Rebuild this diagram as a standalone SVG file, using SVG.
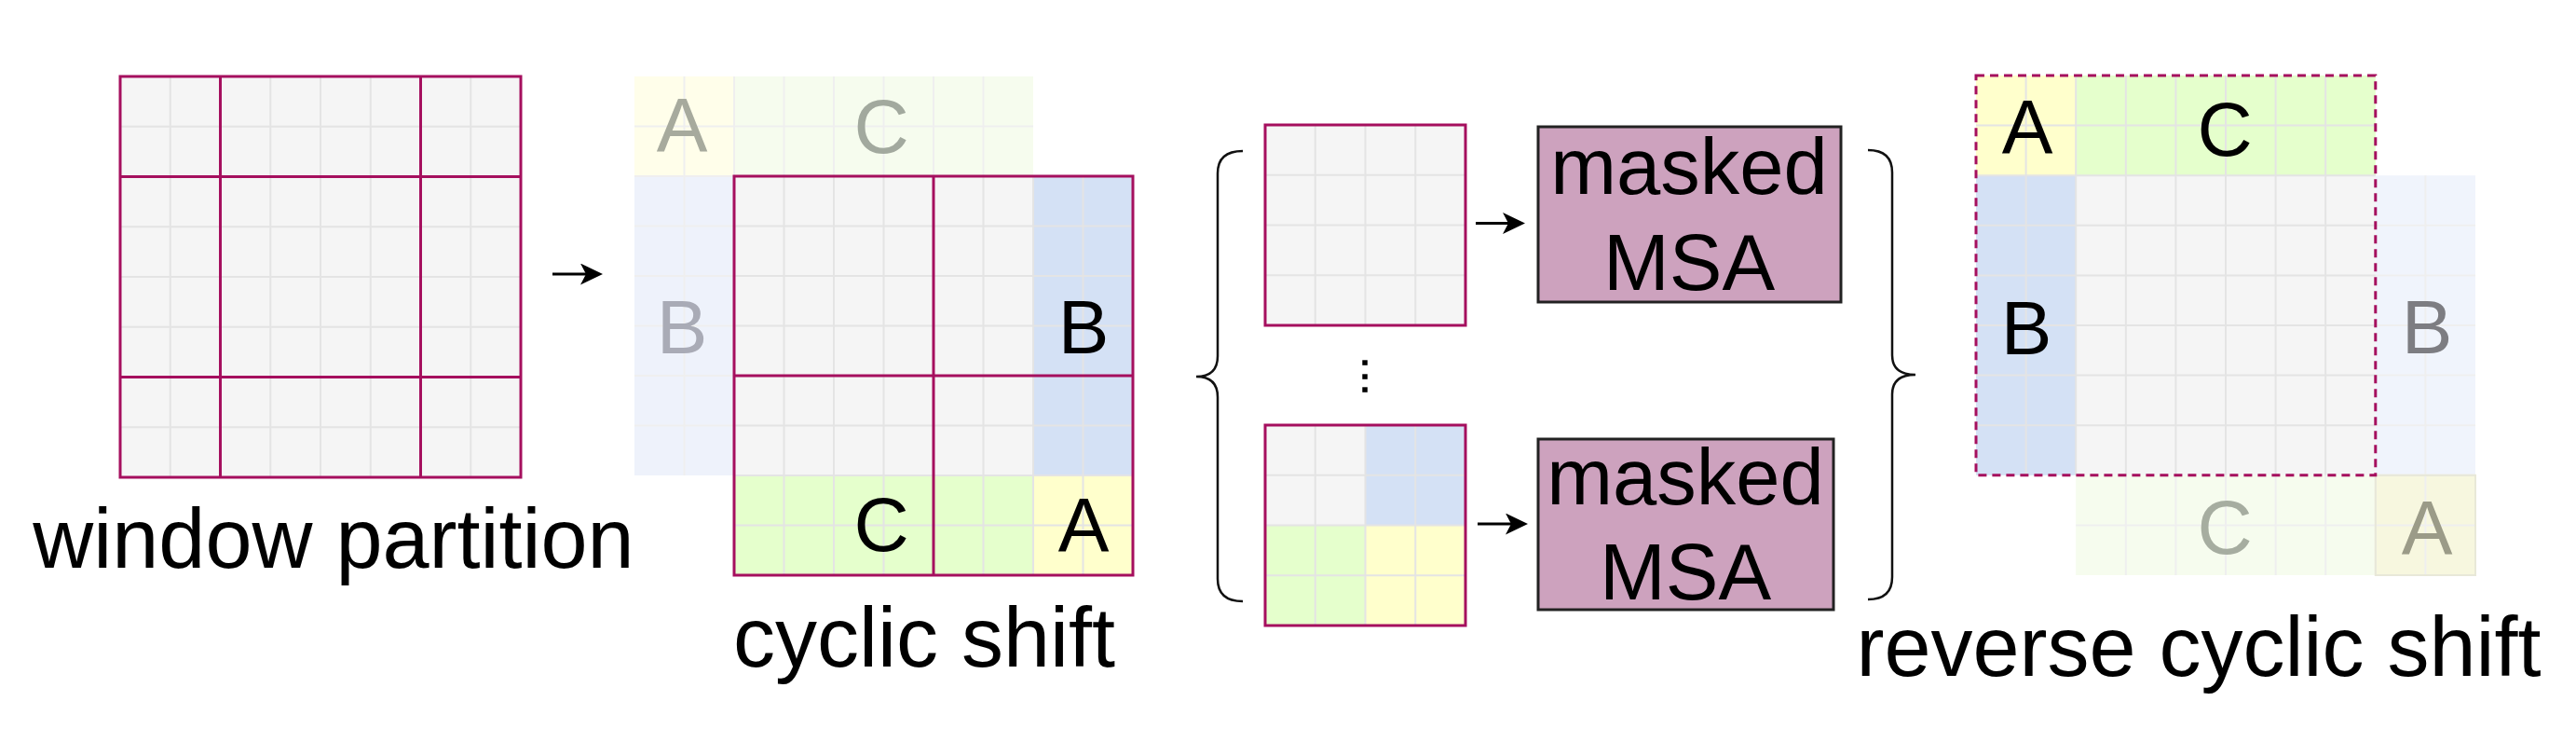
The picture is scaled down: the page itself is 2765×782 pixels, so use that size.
<svg xmlns="http://www.w3.org/2000/svg" width="2765" height="782" viewBox="0 0 2765 782">
<defs>
<style>
.gl{fill:none;stroke:#e4e4e4;stroke-width:2}
.glf{fill:none;stroke:#efefef;stroke-width:2}
.mg{fill:none;stroke:#a50f5e;stroke-width:3}
.mgd{fill:none;stroke:#a50f5e;stroke-width:3;stroke-dasharray:9 6}
.gray{fill:#f5f5f5}
.blue{fill:#d4e1f5}
.green{fill:#e5ffcc}
.yellow{fill:#ffffcc}
.fblue{fill:#eef2fb}
.fgreen{fill:#f6fcee}
.fyellow{fill:#fffeea}
.lbl{font-family:"Liberation Sans",Arial,sans-serif;font-size:82px;text-anchor:middle;fill:#000}
.cap{font-family:"Liberation Sans",Arial,sans-serif;font-size:90px;text-anchor:middle;fill:#000}
.msa{font-family:"Liberation Sans",Arial,sans-serif;font-size:85px;text-anchor:middle;fill:#000}
.box{fill:#cda2be;stroke:#222;stroke-width:3}
.conn{fill:none;stroke:#000;stroke-width:3}
.brace{fill:none;stroke:#111;stroke-width:2.5}
</style>
<marker id="ah" markerUnits="userSpaceOnUse" markerWidth="24" markerHeight="23" refX="6" refY="11.5" orient="auto">
<path d="M0,0 L24,11.5 L0,23 L6,11.5 z" fill="#000"/>
</marker>
</defs>
<rect width="2765" height="782" fill="#fff"/>

<g id="window-partition">
<rect class="gray" x="129" y="82" width="430" height="430"/>
<path class="gl" d="M182.75,82V512M236.5,82V512M290.25,82V512M344,82V512M397.75,82V512M451.5,82V512M505.25,82V512M129,135.75H559M129,189.5H559M129,243.25H559M129,297H559M129,350.75H559M129,404.5H559M129,458.25H559"/>
<rect class="mg" x="129" y="82" width="430" height="430"/>
<path class="mg" d="M236.5,82V512M451.5,82V512M129,189.5H559M129,404.5H559"/>
<text class="cap" x="358" y="609">window partition</text>
</g>

<g id="cyclic-shift">
<g id="cyclic-ghost">
<rect class="fyellow" x="681" y="82" width="107" height="107"/>
<rect class="fgreen" x="788" y="82" width="321" height="107"/>
<rect class="fblue" x="681" y="189" width="107" height="321"/>
<path class="glf" d="M734.5,82V510M788,82V189M841.5,82V189M895,82V189M948.5,82V189M1002,82V189M1055.5,82V189M681,135.5H1109M681,189H788M681,242.5H788M681,296H788M681,349.5H788M681,403H788M681,456.5H788"/>
<text class="lbl" x="732" y="162" fill="#a7aa9d" style="fill:#a7aa9d">A</text>
<text class="lbl" x="946" y="164" style="fill:#a2a99e">C</text>
<text class="lbl" x="732" y="379" style="fill:#a9abb6">B</text>
</g>
<rect class="gray" x="788" y="189" width="321" height="321"/>
<rect class="blue" x="1109" y="189" width="107" height="321"/>
<rect class="green" x="788" y="510" width="321" height="107"/>
<rect class="yellow" x="1109" y="510" width="107" height="107"/>
<path class="gl" d="M841.5,189V617M895,189V617M948.5,189V617M1002,189V617M1055.5,189V617M1109,189V617M1162.5,189V617M788,242.5H1216M788,296H1216M788,349.5H1216M788,403H1216M788,456.5H1216M788,510H1216M788,563.5H1216"/>
<rect class="mg" x="788" y="189" width="428" height="428"/>
<path class="mg" d="M1002,189V617M788,403H1216"/>
<text class="lbl" x="1163" y="379">B</text>
<text class="lbl" x="946" y="591">C</text>
<text class="lbl" x="1163" y="591">A</text>
<text class="cap" x="992" y="715">cyclic shift</text>
</g>

<g id="window-1">
<rect class="gray" x="1358" y="134" width="215" height="215"/>
<path class="gl" d="M1411.75,134V349M1465.5,134V349M1519.25,134V349M1358,187.75H1573M1358,241.5H1573M1358,295.25H1573"/>
<rect class="mg" x="1358" y="134" width="215" height="215"/>
</g>

<g id="ellipsis">
<rect x="1462.3" y="386.3" width="5.5" height="5.5" fill="#000"/>
<rect x="1462.3" y="401.3" width="5.5" height="5.5" fill="#000"/>
<rect x="1462.3" y="415.3" width="5.5" height="5.5" fill="#000"/>
</g>

<g id="window-n">
<rect class="gray" x="1358" y="456" width="107.5" height="107.5"/>
<rect class="blue" x="1465.5" y="456" width="107.5" height="107.5"/>
<rect class="green" x="1358" y="563.5" width="107.5" height="107.5"/>
<rect class="yellow" x="1465.5" y="563.5" width="107.5" height="107.5"/>
<path class="gl" d="M1411.75,456V671M1465.5,456V671M1519.25,456V671M1358,509.75H1573M1358,563.5H1573M1358,617.25H1573"/>
<rect class="mg" x="1358" y="456" width="215" height="215"/>
</g>

<g id="msa-1">
<rect class="box" x="1651" y="136" width="325" height="188"/>
<text class="msa" x="1813" y="208">masked</text>
<text class="msa" x="1813" y="311">MSA</text>
</g>

<g id="msa-n">
<rect class="box" x="1651" y="471" width="317" height="183"/>
<text class="msa" x="1809" y="541">masked</text>
<text class="msa" x="1809" y="643">MSA</text>
</g>

<g id="reverse-cyclic-shift">
<rect class="yellow" x="2121" y="81" width="107.2" height="107.2"/>
<rect class="green" x="2228.2" y="81" width="321.6" height="107.2"/>
<rect class="blue" x="2121" y="188.2" width="107.2" height="321.6"/>
<rect class="gray" x="2228.2" y="188.2" width="321.6" height="321.6"/>
<g id="reverse-ghost">
<rect fill="#f0f4fc" x="2549.8" y="188.2" width="107.2" height="321.6"/>
<rect class="fgreen" x="2228.2" y="509.8" width="321.6" height="107.2"/>
<rect fill="#f7f7df" x="2549.8" y="509.8" width="107.2" height="107.2"/>
<path class="glf" d="M2603.4,188.2V617M2549.8,241.8H2657M2549.8,295.4H2657M2549.8,349H2657M2549.8,402.6H2657M2549.8,456.2H2657M2549.8,509.8H2657M2281.8,509.8V617M2335.4,509.8V617M2389,509.8V617M2442.6,509.8V617M2496.2,509.8V617M2549.8,509.8V617M2228.2,563.4H2657"/>
<rect fill="none" stroke="#e8e8d8" stroke-width="2" x="2549.8" y="509.8" width="107.2" height="107.2"/>
<text class="lbl" x="2605" y="379" style="fill:#7d7d82">B</text>
<text class="lbl" x="2388" y="594" style="fill:#a6ada0">C</text>
<text class="lbl" x="2605" y="594" style="fill:#9b9b88">A</text>
</g>
<path class="gl" d="M2174.6,81V509.8M2228.2,81V509.8M2281.8,81V509.8M2335.4,81V509.8M2389,81V509.8M2442.6,81V509.8M2496.2,81V509.8M2121,134.6H2549.8M2121,188.2H2549.8M2121,241.8H2549.8M2121,295.4H2549.8M2121,349H2549.8M2121,402.6H2549.8M2121,456.2H2549.8"/>
<rect class="mgd" x="2121" y="81" width="428.8" height="428.8"/>
<text class="lbl" x="2176" y="164">A</text>
<text class="lbl" x="2388" y="167">C</text>
<text class="lbl" x="2175" y="380">B</text>
<text class="cap" x="2360" y="725">reverse cyclic shift</text>
</g>

<g id="connectors">
<line class="conn" x1="593" y1="294" x2="629" y2="294" marker-end="url(#ah)"/>
<line class="conn" x1="1584" y1="239.5" x2="1619" y2="239.5" marker-end="url(#ah)"/>
<line class="conn" x1="1586" y1="562" x2="1622" y2="562" marker-end="url(#ah)"/>
<path class="brace" d="M1334,162 Q1307,162 1307,186 L1307,382 Q1307,404 1284,404 Q1307,404 1307,426 L1307,621 Q1307,645 1334,645"/>
<path class="brace" d="M2005,161 Q2031,161 2031,185 L2031,381 Q2031,402 2056,402 Q2031,402 2031,423 L2031,619 Q2031,643 2005,643"/>
</g>
</svg>
